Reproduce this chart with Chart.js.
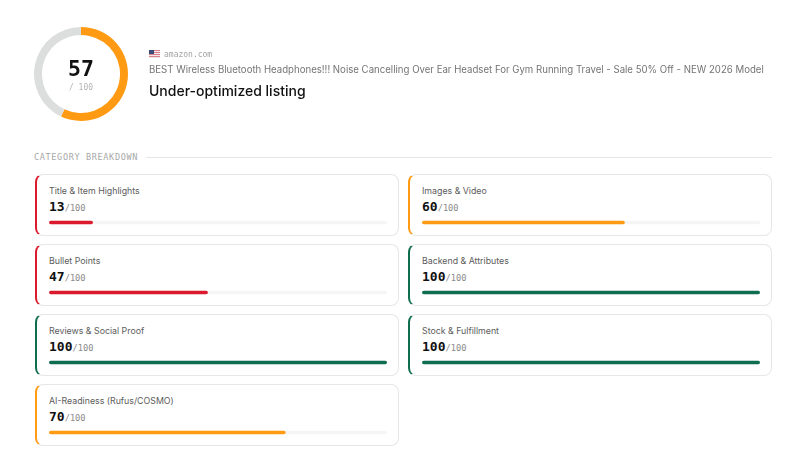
<!DOCTYPE html>
<html>
<head>
<meta charset="utf-8">
<script src="https://cdn.jsdelivr.net/npm/chart.js@4"></script>
<style>
  html, body { margin: 0; padding: 0; background: #fff; }
  body { width: 800px; height: 452px; position: relative; overflow: hidden; font-family: Inter, "Noto Sans", sans-serif; }
  .abs { position: absolute; white-space: nowrap; }
  .mono { font-family: "DejaVu Sans Mono", monospace; }
  #gauge-box { position: absolute; left: 31px; top: 24px; width: 100px; height: 100px; }
  .flag { position: absolute; left: 149px; top: 50px; width: 11px; height: 8px; background: repeating-linear-gradient(#d9808c 0 1px, #f3e6e8 1px 2px); }
  .flag i { position: absolute; left: 0; top: 0; width: 5px; height: 4px; background: #3c4a78; }
  .card { position: absolute; width: 364px; height: 62px; box-sizing: border-box; background: #fff; border: 1px solid #e6e7e8; border-left-width: 2px; border-radius: 8px; }
  .card .name { position: absolute; left: 12px; top: 10px; font-size: 8.8px; color: #5c5c5c; white-space: nowrap; }
  .card .score { position: absolute; left: 12px; top: 24px; font-size: 13px; font-weight: bold; color: #111; white-space: nowrap; }
  .card .score span { font-size: 8.7px; font-weight: normal; color: #8a8a8a; }
  .card .bar { position: absolute; left: 12px; top: 45px; width: 338px; height: 5px; }
  .card canvas, #gauge-box canvas { display: block; }
</style>
</head>
<body>
<div id="gauge-box"><canvas id="gauge"></canvas></div>
<div class="abs" style="left:31px;width:100px;top:56px;text-align:center;font-size:21.5px;font-weight:bold;color:#111;line-height:26px;font-family:'DejaVu Sans Mono',monospace">57</div>
<div class="abs mono" style="left:31px;width:100px;top:83px;text-align:center;font-size:8px;color:#b4b4b4">/ 100</div>

<div class="flag"><i></i></div>
<div class="abs mono" style="left:164px;top:50px;font-size:8px;color:#a3a3a3">amazon.com</div>
<div class="abs" style="left:149px;top:64px;font-size:9.65px;color:#747474">BEST Wireless Bluetooth Headphones!!! Noise Cancelling Over Ear Headset For Gym Running Travel - Sale 50% Off - NEW 2026 Model</div>
<div class="abs" style="left:149px;top:82px;font-size:14px;font-weight:500;color:#111">Under-optimized listing</div>

<div class="abs mono" style="left:34px;top:152px;font-size:8.5px;letter-spacing:0.66px;color:#a8a8a8">CATEGORY BREAKDOWN</div>
<div class="abs" style="left:146px;top:157px;width:626px;height:1px;background:#e6e7e8"></div>

<script>
const overallScore = 57;
const maxScore = 100;
const categories = [
  "Title & Item Highlights",
  "Images & Video",
  "Bullet Points",
  "Backend & Attributes",
  "Reviews & Social Proof",
  "Stock & Fulfillment",
  "AI-Readiness (Rufus/COSMO)",
];
const scores = [13, 60, 47, 100, 100, 100, 70];

const ORANGE = "#ff9a12";
const RED = "#dc1a2e";
const GREEN = "#0f6e50";

function score_color(s) {
  if (s < 50) return RED;
  if (s < 80) return ORANGE;
  return GREEN;
}

new Chart(document.getElementById("gauge"), {
  type: "doughnut",
  data: {
    datasets: [{
      data: [overallScore, maxScore - overallScore],
      backgroundColor: [ORANGE, "#dcdddd"],
      borderWidth: 0,
    }],
  },
  options: {
    responsive: true,
    maintainAspectRatio: false,
    animation: false,
    cutout: "83%",
    layout: { padding: 3 },
    plugins: { legend: { display: false }, tooltip: { enabled: false } },
  },
});

categories.forEach(function (name, i) {
  const col = i % 2;
  const row = Math.floor(i / 2);
  const card = document.createElement("div");
  card.className = "card";
  card.style.left = (col ? 408 : 35) + "px";
  card.style.top = (174 + row * 70) + "px";
  card.style.borderLeftColor = score_color(scores[i]);
  card.innerHTML =
    '<div class="name"></div>' +
    '<div class="score mono">' + scores[i] + "<span>/" + maxScore + "</span></div>" +
    '<div class="bar"><canvas></canvas></div>';
  card.querySelector(".name").textContent = name;
  document.body.appendChild(card);

  new Chart(card.querySelector("canvas"), {
    type: "bar",
    data: {
      labels: [name],
      datasets: [
        {
          data: [scores[i]],
          backgroundColor: score_color(scores[i]),
          borderRadius: 2,
          borderSkipped: false,
          barPercentage: 0.7,
          categoryPercentage: 1,
          order: 1,
        },
        {
          data: [maxScore],
          backgroundColor: "#f5f5f5",
          borderRadius: 2,
          borderSkipped: false,
          barPercentage: 0.7,
          categoryPercentage: 1,
          order: 2,
        },
      ],
    },
    options: {
      indexAxis: "y",
      responsive: true,
      maintainAspectRatio: false,
      animation: false,
      layout: { padding: 0 },
      scales: {
        x: { display: false, min: 0, max: maxScore },
        y: { display: false, stacked: true },
      },
      plugins: { legend: { display: false }, tooltip: { enabled: false } },
    },
  });
});
</script>
</body>
</html>
